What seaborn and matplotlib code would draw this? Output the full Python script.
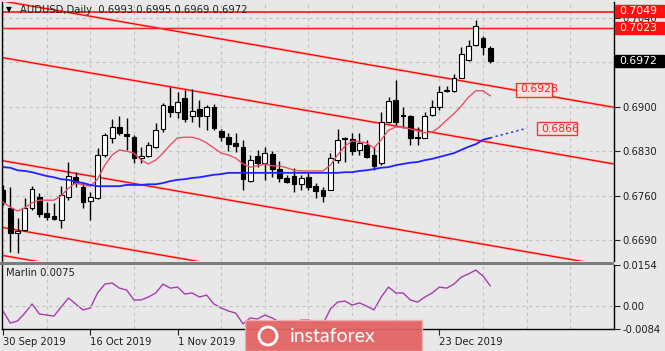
import numpy as np
import pandas as pd
import seaborn as sns
import matplotlib.pyplot as plt
from matplotlib.patches import Rectangle, Ellipse

# AUDUSD daily bars, 30 Sep 2019 .. 2 Jan 2020 (bar index 0..67)
opens = [0.6769, 0.6741, 0.6701, 0.6706, 0.6741, 0.6758, 0.6733, 0.6728, 0.6722, 0.6758,
         0.6789, 0.6774, 0.6752, 0.6756, 0.6824, 0.6851, 0.6868, 0.6857, 0.6852, 0.6819,
         0.6822, 0.6837, 0.6865, 0.6901, 0.6892, 0.6914, 0.6885, 0.6896, 0.6885, 0.6900,
         0.6862, 0.6852, 0.6843, 0.6837, 0.6783, 0.6822, 0.6812, 0.6826, 0.6802, 0.6788,
         0.6791, 0.6778, 0.6789, 0.6775, 0.6769, 0.6769, 0.6816, 0.6851, 0.6849, 0.6832,
         0.6840, 0.6824, 0.6812, 0.6876, 0.6911, 0.6887, 0.6885, 0.6852, 0.6851, 0.6887,
         0.6900, 0.6925, 0.6925, 0.6945, 0.6973, 0.6997, 0.7008, 0.6993]
highs = [0.6777, 0.6774, 0.6725, 0.6756, 0.6775, 0.6764, 0.6750, 0.6749, 0.6775, 0.6813,
         0.6797, 0.6780, 0.6766, 0.6835, 0.6859, 0.6881, 0.6885, 0.6882, 0.6856, 0.6837,
         0.6845, 0.6874, 0.6906, 0.6931, 0.6923, 0.6926, 0.6928, 0.6911, 0.6903, 0.6904,
         0.6865, 0.6859, 0.6859, 0.6848, 0.6824, 0.6832, 0.6837, 0.6830, 0.6815, 0.6793,
         0.6804, 0.6793, 0.6796, 0.6780, 0.6774, 0.6827, 0.6865, 0.6852, 0.6859, 0.6859,
         0.6848, 0.6837, 0.6892, 0.6915, 0.6942, 0.6900, 0.6887, 0.6868, 0.6892, 0.6911,
         0.6933, 0.6933, 0.6951, 0.6994, 0.7005, 0.7036, 0.7011, 0.6995]
lows = [0.6745, 0.6672, 0.6670, 0.6705, 0.6738, 0.6727, 0.6722, 0.6722, 0.6709, 0.6753,
        0.6774, 0.6741, 0.6722, 0.6755, 0.6821, 0.6843, 0.6856, 0.6832, 0.6812, 0.6812,
        0.6821, 0.6835, 0.6860, 0.6884, 0.6882, 0.6876, 0.6876, 0.6868, 0.6863, 0.6863,
        0.6846, 0.6830, 0.6829, 0.6769, 0.6782, 0.6805, 0.6785, 0.6789, 0.6782, 0.6780,
        0.6766, 0.6769, 0.6769, 0.6756, 0.6750, 0.6769, 0.6812, 0.6813, 0.6824, 0.6824,
        0.6819, 0.6800, 0.6808, 0.6874, 0.6871, 0.6867, 0.6840, 0.6840, 0.6851, 0.6885,
        0.6895, 0.6923, 0.6923, 0.6945, 0.6972, 0.6995, 0.6981, 0.6969]
closes = [0.6750, 0.6701, 0.6705, 0.6741, 0.6771, 0.6731, 0.6727, 0.6723, 0.6761, 0.6791,
          0.6780, 0.6750, 0.6758, 0.6824, 0.6856, 0.6868, 0.6859, 0.6854, 0.6819, 0.6822,
          0.6840, 0.6863, 0.6903, 0.6892, 0.6907, 0.6881, 0.6893, 0.6885, 0.6900, 0.6867,
          0.6852, 0.6841, 0.6838, 0.6786, 0.6816, 0.6812, 0.6827, 0.6802, 0.6788, 0.6782,
          0.6778, 0.6788, 0.6774, 0.6767, 0.6760, 0.6819, 0.6848, 0.6849, 0.6830, 0.6843,
          0.6821, 0.6807, 0.6876, 0.6909, 0.6876, 0.6885, 0.6851, 0.6851, 0.6885, 0.6900,
          0.6923, 0.6926, 0.6945, 0.6983, 0.6995, 0.7027, 0.6994, 0.6972]

# moving averages
red_ma = [0.6750, 0.6742, 0.6736, 0.6741, 0.6749, 0.6753, 0.6753, 0.6753, 0.6760, 0.6772,
          0.6780, 0.6777, 0.6775, 0.6786, 0.6808, 0.6824, 0.6832, 0.6830, 0.6827, 0.6816,
          0.6810, 0.6816, 0.6827, 0.6840, 0.6851, 0.6852, 0.6852, 0.6849, 0.6843, 0.6835,
          0.6827, 0.6824, 0.6819, 0.6810, 0.6805, 0.6807, 0.6810, 0.6807, 0.6807, 0.6804,
          0.6800, 0.6799, 0.6799, 0.6799, 0.6799, 0.6808, 0.6824, 0.6838, 0.6846, 0.6845,
          0.6843, 0.6835, 0.6848, 0.6863, 0.6868, 0.6868, 0.6865, 0.6862, 0.6859, 0.6860,
          0.6868, 0.6879, 0.6889, 0.6901, 0.6915, 0.6925, 0.6925, 0.6917]
blue_ma = [0.6805, 0.6804, 0.6800, 0.6799, 0.6797, 0.6794, 0.6791, 0.6789, 0.6786, 0.6785,
           0.6782, 0.6780, 0.6777, 0.6775, 0.6775, 0.6775, 0.6775, 0.6777, 0.6777, 0.6777,
           0.6778, 0.6778, 0.6780, 0.6783, 0.6785, 0.6786, 0.6788, 0.6789, 0.6791, 0.6793,
           0.6794, 0.6796, 0.6796, 0.6796, 0.6796, 0.6796, 0.6796, 0.6796, 0.6796, 0.6796,
           0.6796, 0.6796, 0.6796, 0.6796, 0.6796, 0.6796, 0.6796, 0.6797, 0.6797, 0.6799,
           0.6800, 0.6802, 0.6804, 0.6805, 0.6808, 0.6810, 0.6812, 0.6813, 0.6816, 0.6818,
           0.6821, 0.6824, 0.6827, 0.6832, 0.6837, 0.6841, 0.6848, 0.6851]
blue_fwd_x = [67, 68, 69, 70, 71, 72]
blue_fwd = [0.6851, 0.6854, 0.6857, 0.6860, 0.6863, 0.6866]

marlin = [-0.0017, -0.0062, -0.0054, -0.0025, 0.0009, -0.0028, -0.0032, -0.0036, -0.0002, 0.0031,
          0.0009, -0.0013, -0.0006, 0.0050, 0.0083, 0.0087, 0.0068, 0.0061, 0.0024, 0.0024,
          0.0035, 0.0050, 0.0083, 0.0068, 0.0072, 0.0046, 0.0050, 0.0035, 0.0042, 0.0009,
          -0.0006, -0.0017, -0.0025, -0.0065, -0.0043, -0.0047, -0.0032, -0.0043, -0.0058, -0.0058,
          -0.0062, -0.0051, -0.0051, -0.0058, -0.0065, -0.0010, 0.0016, 0.0020, 0.0005, 0.0013,
          0.0001, -0.0013, 0.0035, 0.0072, 0.0050, 0.0050, 0.0024, 0.0016, 0.0035, 0.0050,
          0.0072, 0.0068, 0.0083, 0.0109, 0.0121, 0.0135, 0.0113, 0.0076]

# descending channel lines, price at bar -1 and bar 85
channel_x = [-1, 85]
channel_lines = [[0.7068, 0.6897], [0.6979, 0.6808], [0.6817, 0.6646],
                 [0.6712, 0.6541], [0.6668, 0.6497]]
level_hi = 0.7049
level_lo = 0.7023

# labels under the watermark (19 Nov, 5 Dec) are not visible, so only these
date_ticks = [0, 12, 24, 60]
date_labels = ['30 Sep 2019', '16 Oct 2019', '1 Nov 2019', '23 Dec 2019']
price_ticks = [0.6690, 0.6760, 0.6830, 0.6900, 0.6970, 0.7040]
price_labels = ['0.6690', '0.6760', '0.6830', '0.6900', '', '0.7040']
marlin_ticks = [-0.0084, 0.0, 0.0154]
marlin_labels = ['-0.0084', '0.00', '0.0154']

bg = '#e8e8e8'
W, H = 665, 351
fs = 7.2

sns.set_theme(style='white')
plt.rcParams['font.family'] = ['DejaVu Sans']

df = pd.DataFrame({'bar': np.arange(len(opens)), 'open': opens, 'high': highs,
                   'low': lows, 'close': closes, 'red_ma': red_ma,
                   'blue_ma': blue_ma, 'marlin': marlin})

fig = plt.figure(figsize=(W / 100, H / 100), dpi=100, facecolor=bg)
ax = fig.add_axes([2 / W, 1 - 261 / H, 612 / W, 259 / H], facecolor=bg)
ax2 = fig.add_axes([2 / W, 1 - 329 / H, 612 / W, 64 / H], facecolor=bg)

xlim = (-0.137, 83.93)
grid_kw = dict(color='#c2c2c2', linestyle=(0, (3, 3)), lw=0.8)

# --- price panel ---
for line in channel_lines:
    ax.plot(channel_x, line, color='#ffb4b4', lw=1.9, zorder=1.5, solid_capstyle='butt')
    ax.plot(channel_x, line, color='#ff0000', lw=0.9, zorder=1.6)
ax.axhline(level_hi, color='#ff0000', lw=1.1, zorder=1.6)
ax.axhline(level_lo, color='#ffb4b4', lw=1.9, zorder=1.5)
ax.axhline(level_lo, color='#ff2020', lw=0.9, zorder=1.6)

up = df['close'] >= df['open']
ax.vlines(df['bar'], df['low'], df['high'], color='black', lw=1, zorder=3)
body_lo = df[['open', 'close']].min(axis=1)
body_h = (df['close'] - df['open']).abs().clip(lower=0.00008)
ax.bar(df['bar'], body_h, bottom=body_lo, width=0.66,
       color=np.where(up, 'white', 'black'), edgecolor='black', lw=0.8, zorder=4)

sns.lineplot(data=df, x='bar', y='red_ma', ax=ax, color='#e8506a', lw=1, zorder=5)
sns.lineplot(data=df, x='bar', y='blue_ma', ax=ax, color='#2222ff', lw=1.3, zorder=5)
sns.lineplot(x=blue_fwd_x, y=blue_fwd, ax=ax, color='#3333ff', lw=1.1, linestyle=(0, (1.5, 2)), zorder=5)

ax.set_xlim(*xlim)
ax.set_ylim(0.66574, 0.70646)
ax.set_xticks(range(0, 85, 6))
ax.set_xticklabels([])
ax.set_yticks(price_ticks)
ax.set_yticklabels(price_labels)
ax.yaxis.tick_right()
ax.tick_params(axis='y', direction='out', length=4, width=0.8, pad=2, labelsize=fs,
               colors='#202020', right=True)
ax.tick_params(axis='x', length=0)
ax.grid(True, **grid_kw)
ax.set_xlabel('')
ax.set_ylabel('')
for side in ['top', 'bottom']:
    ax.spines[side].set_visible(False)
for side in ['left', 'right']:
    ax.spines[side].set_color('black')
    ax.spines[side].set_linewidth(1)

# --- Marlin panel ---
sns.lineplot(data=df, x='bar', y='marlin', ax=ax2, color='#a63cb0', lw=1)
ax2.set_xlim(*xlim)
ax2.set_ylim(-0.0084, 0.0154)
ax2.set_xticks(range(0, 85, 6), minor=True)
ax2.set_xticks(date_ticks)
ax2.set_xticklabels(date_labels)
for lab in ax2.get_xticklabels():
    lab.set_ha('left')
ax2.set_yticks(marlin_ticks)
ax2.set_yticklabels(marlin_labels)
ylabs = ax2.get_yticklabels()
ylabs[0].set_va('bottom')
ylabs[2].set_va('top')
ax2.yaxis.tick_right()
ax2.tick_params(axis='y', direction='out', length=4, width=0.8, pad=2, labelsize=fs, colors='#202020')
ax2.tick_params(axis='x', which='major', direction='out', length=4, width=0.8, pad=2,
                labelsize=fs, colors='#202020', bottom=True)
ax2.tick_params(axis='x', which='minor', length=0)
ax2.grid(True, axis='x', which='minor', **grid_kw)
ax2.axhline(0, **grid_kw)
ax2.set_xlabel('')
ax2.set_ylabel('')
ax2.spines['top'].set_visible(False)
for side in ['left', 'right', 'bottom']:
    ax2.spines[side].set_color('black')
    ax2.spines[side].set_linewidth(1)

# separator between panels
fig.add_artist(Rectangle((0, 1 - 265 / H), 614 / W, 3.5 / H, transform=fig.transFigure,
                         facecolor='#7c7c7c', edgecolor='none'))

# --- texts ---
fig.text(6 / W, 1 - 10 / H, '\u25bc', fontsize=5.5, va='center', color='black')
fig.text(20 / W, 1 - 10 / H, 'AUDUSD,Daily  0.6993 0.6995 0.6969 0.6972', fontsize=fs,
         va='center', color='#202020')
fig.text(6 / W, 1 - 273 / H, 'Marlin 0.0075', fontsize=fs, va='center', color='#202020')


def tag(x0, x1, yc, h, text, fc, ec, tc):
    fig.add_artist(Rectangle((x0 / W, 1 - (yc + h / 2) / H), (x1 - x0) / W, h / H,
                             transform=fig.transFigure, facecolor=fc, edgecolor=ec, lw=1))
    fig.text((x0 + 4) / W, 1 - yc / H, text, fontsize=fs + 0.6, va='center', ha='left', color=tc)


tag(615, 664, 11, 12, '0.7049', '#ff1010', '#ff1010', 'white')
tag(615, 664, 28, 12, '0.7023', '#ff1010', '#ff1010', 'white')
tag(615, 664, 61, 12, '0.6972', 'black', 'black', 'white')
tag(516, 552, 89.5, 14, '0.6928', '#f2e2e2', '#ff3030', '#ff2020')
tag(537, 577, 128.5, 13, '0.6866', '#f2e2e2', '#ff3030', '#ff2020')

# watermark
fig.add_artist(Rectangle((245 / W, 0), 177 / W, 31 / H, transform=fig.transFigure,
                         facecolor='#e46464', edgecolor='#f0b0b0', lw=1, alpha=0.95))
fig.add_artist(Ellipse((268 / W, 1 - 336 / H), 18 / W, 18 / H, transform=fig.transFigure,
                       facecolor='none', edgecolor='white', lw=2))
fig.text(290 / W, 1 - 336 / H, 'instaforex', fontsize=14, color='white', va='center',
         ha='left', family=['Lato', 'DejaVu Sans'])

fig.savefig('out.png', dpi=100, facecolor=bg)
